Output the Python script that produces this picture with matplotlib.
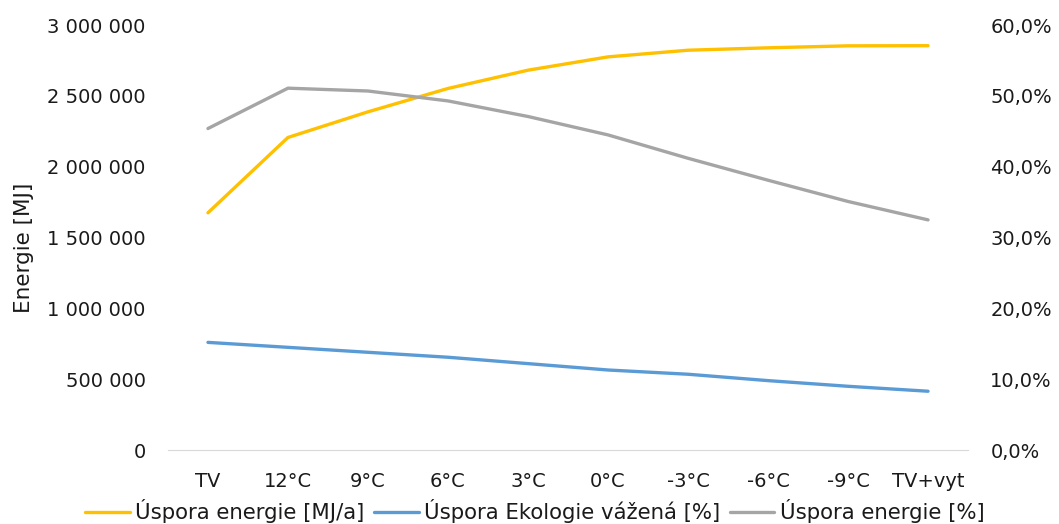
import matplotlib.pyplot as plt
from matplotlib.ticker import FuncFormatter

plt.rcParams['font.family'] = ['DejaVu Sans']

categories = ['TV', '12°C', '9°C', '6°C', '3°C', '0°C', '-3°C', '-6°C', '-9°C', 'TV+vyt']
uspora_mj = [1675000, 2207000, 2388000, 2553000, 2682000, 2776000, 2823000, 2840000, 2854000, 2855000]
ekologie_pct = [15.2, 14.5, 13.8, 13.1, 12.2, 11.3, 10.7, 9.8, 9.0, 8.3]
uspora_pct = [45.4, 51.1, 50.7, 49.3, 47.1, 44.5, 41.2, 38.1, 35.1, 32.5]

fig = plt.figure(figsize=(10.59, 5.24), dpi=100)
ax = fig.add_axes([0.1586, 0.1412, 0.7555, 0.8108])
ax2 = ax.twinx()

x = range(len(categories))
l1, = ax.plot(x, uspora_mj, color='#FFC000', lw=2.4, solid_capstyle='round', label='Úspora energie [MJ/a]')
l2, = ax2.plot(x, ekologie_pct, color='#5B9BD5', lw=2.4, solid_capstyle='round', label='Úspora Ekologie vážená [%]')
l3, = ax2.plot(x, uspora_pct, color='#A5A5A5', lw=2.4, solid_capstyle='round', label='Úspora energie [%]')

ax.set_xlim(-0.5, len(categories) - 0.5)
ax.set_ylim(0, 3000000)
ax2.set_ylim(0, 60)
ax.set_yticks(range(0, 3000001, 500000))
ax2.set_yticks(range(0, 61, 10))
ax.yaxis.set_major_formatter(FuncFormatter(lambda v, p: '{:,}'.format(int(v)).replace(',', ' ')))
ax2.yaxis.set_major_formatter(FuncFormatter(lambda v, p: '{:.1f}%'.format(v).replace('.', ',')))
ax.set_xticks(list(x))
ax.set_xticklabels(categories)

txt = '#1a1a1a'
for a in (ax, ax2):
    for s in ['top', 'left', 'right', 'bottom']:
        a.spines[s].set_visible(False)
    a.tick_params(length=0, labelsize=14, colors=txt)
# only a faint baseline under the plot
ax.spines['bottom'].set_visible(True)
ax.spines['bottom'].set_color('#D9D9D9')
ax.tick_params(axis='x', pad=16)
ax.tick_params(axis='y', pad=16)
ax2.tick_params(axis='y', pad=16)

ax.set_ylabel('Energie [MJ]', fontsize=15.5, color=txt)
ax.yaxis.set_label_coords(-0.168, 0.476)

fig.legend(handles=[l1, l2, l3], loc='lower center', bbox_to_anchor=(0.505, -0.035), ncol=3,
           frameon=False, fontsize=15.3, handlelength=2.1, handletextpad=0.25, columnspacing=0.45,
           labelcolor=txt)

fig.savefig('out.png', dpi=100)
